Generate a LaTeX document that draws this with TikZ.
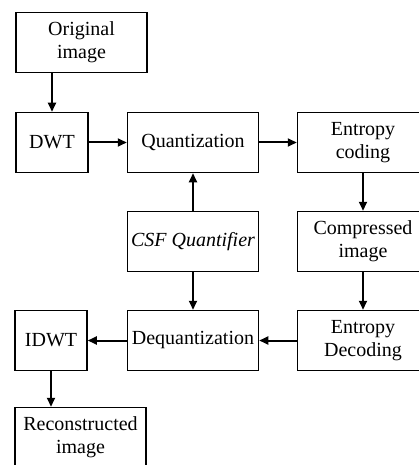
\documentclass[tikz,border=0pt]{standalone}
\usepackage{fontspec}
\setmainfont{Liberation Serif}
\usepackage{tikz}
\usetikzlibrary{arrows.meta}
\usetikzlibrary{positioning,calc}

\tikzset{
	block/.style={draw,line width=1.5pt,minimum height=60pt,inner sep=0pt,align=center,
		font=\fontsize{20}{23}\selectfont},
	wide/.style={block,minimum width=131pt},
	narrow/.style={block,minimum width=72pt},
	arr/.style={line width=2pt,-{Triangle[length=9pt,width=8pt]}}
}

\begin{document}
\begin{tikzpicture}[x=1pt,y=-1pt]
	\clip (0,0) rectangle (419,465);
	% encoder
	\node[wide] (orig) at (81.5,42.5) {Original\\image};
	\node[narrow] (dwt) at (52,142.5) {DWT};
	\node[wide] (quant) at (193,142.5) {Quantization};
	\node[wide] (entc) at (363,142.5) {Entropy\\coding};
	\node[wide] (csf) at (193,241.5) {\itshape CSF Quantifier};
	\node[wide] (comp) at (363,241.5) {Compressed\\image};
	% decoder
	\node[narrow] (idwt) at (51,340.5) {IDWT};
	\node[wide] (deq) at (193,340.5) {Dequantization};
	\node[wide] (entd) at (363,340.5) {Entropy\\Decoding};
	\node[wide] (recon) at (80.5,437.5) {Reconstructed\\image};
	
	\draw[arr] (orig.south -| dwt.north) -- (dwt.north);
	\draw[arr] (dwt) -- (quant);
	\draw[arr] (quant) -- (entc);
	\draw[arr] (entc) -- (comp);
	\draw[arr] (csf) -- (quant);
	\draw[arr] (csf) -- (deq);
	\draw[arr] (comp) -- (entd);
	\draw[arr] (entd) -- (deq);
	\draw[arr] (deq) -- (idwt);
	\draw[arr] (idwt) -- (idwt.south |- recon.north);
\end{tikzpicture}
\end{document}
